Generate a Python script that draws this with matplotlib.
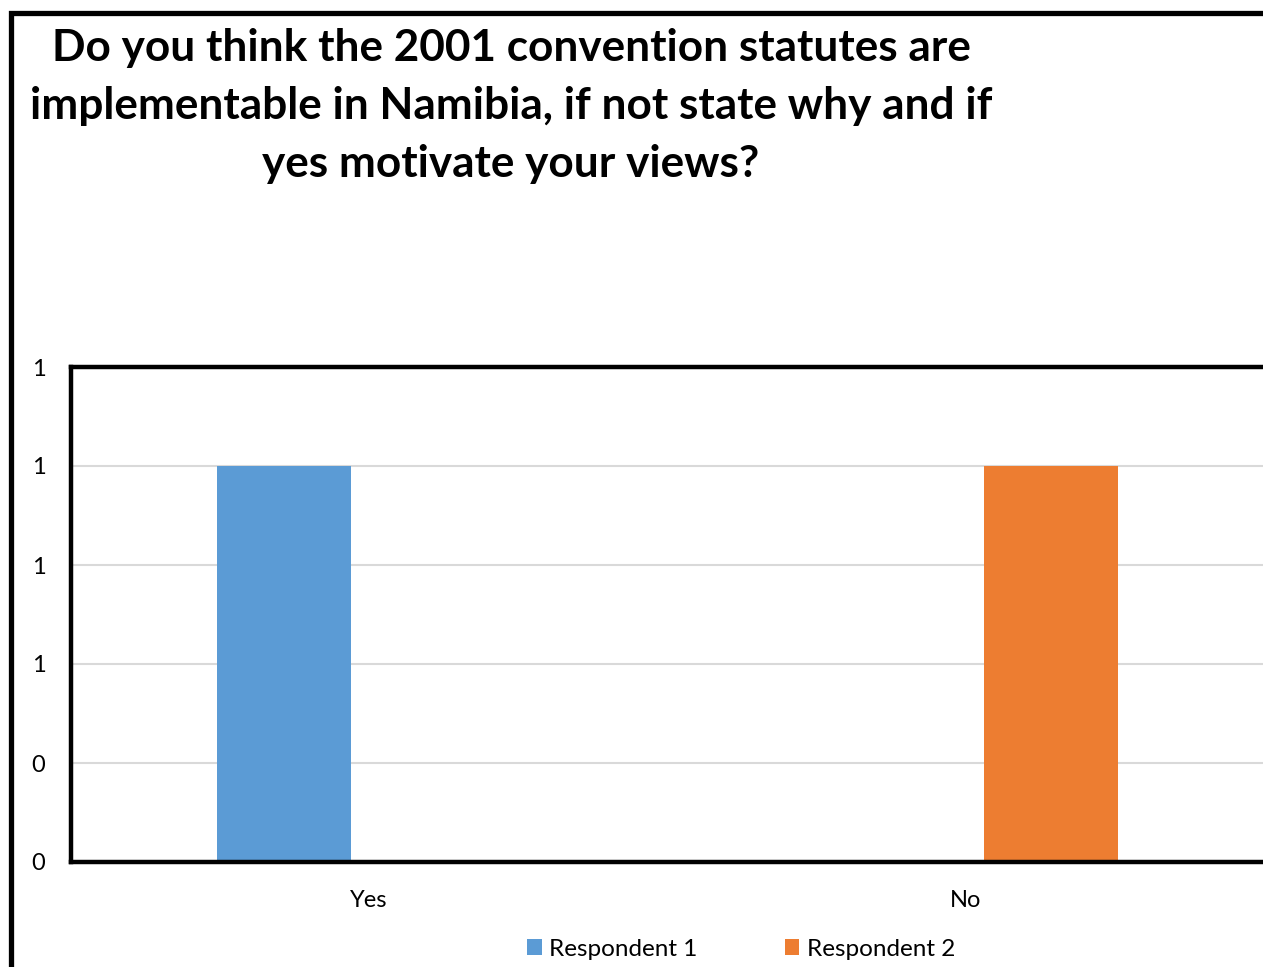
import matplotlib
matplotlib.use("Agg")
import matplotlib.pyplot as plt
from matplotlib.patches import Patch, Rectangle
import numpy as np

plt.rcParams['font.family'] = ['Lato', 'DejaVu Sans']

title = "Do you think the 2001 convention statutes are\nimplementable in Namibia, if not state why and if\nyes motivate your views?"
categories = ["Yes", "No"]
series_names = ["Respondent 1", "Respondent 2"]
respondent1 = [1, 0]
respondent2 = [0, 1]
y_ticks = [0, 0.25, 0.5, 0.75, 1.0, 1.25]
y_tick_labels = ["0", "0", "1", "1", "1", "1"]
colors = ["#5B9BD5", "#ED7D31"]

W, H = 1263, 967
fig = plt.figure(figsize=(W / 100, H / 100), dpi=100)
fig.patch.set_facecolor("white")

# outer chart border (cropped at right and bottom)
fig.patches.append(Rectangle((11 / W, -0.2), 1.5, (H - 12.5) / H + 0.2,
                             transform=fig.transFigure, fill=False,
                             edgecolor="black", linewidth=3.8, zorder=10))

fig.text(511 / W, (H - 28) / H, title, ha="center", va="top",
         fontsize=31.8, fontweight="bold", linespacing=1.54, multialignment="center")

ax_left = 70.5
ax_w = 1194
ax_top = 367
ax_bot = 862
ax = fig.add_axes([ax_left / W, (H - ax_bot) / H, ax_w / W, (ax_bot - ax_top) / H])

x = np.arange(len(categories))
bw = 0.2245
off = 0.1424
ax.bar(x - off, respondent1, width=bw, color=colors[0], zorder=3, label=series_names[0])
ax.bar(x + off, respondent2, width=bw, color=colors[1], zorder=3, label=series_names[1])

ax.set_xlim(-0.5, 1.5)
ax.set_ylim(0, 1.25)
ax.set_yticks(y_ticks)
ax.set_yticklabels(y_tick_labels)
ax.set_xticks(x)
ax.set_xticklabels(categories)
ax.tick_params(axis="both", length=0, labelsize=17, colors="black")
ax.tick_params(axis="y", pad=18)
ax.tick_params(axis="x", pad=20)
ax.yaxis.grid(True, color="#D9D9D9", linewidth=1.5, zorder=0)
ax.set_axisbelow(True)
for s in ["left", "top", "bottom"]:
    ax.spines[s].set_linewidth(3.2)
    ax.spines[s].set_color("black")
    ax.spines[s].set_zorder(5)
ax.spines["right"].set_visible(False)

handles = [Patch(facecolor=c, edgecolor="none") for c in colors]
fig.legend(handles, series_names, loc="center", bbox_to_anchor=(741 / W, (H - 949) / H),
           ncol=2, frameon=False, fontsize=17.5, handlelength=0.6, handleheight=0.6,
           handletextpad=0.3, columnspacing=3.6)

fig.savefig("out.png", dpi=100, facecolor="white")
